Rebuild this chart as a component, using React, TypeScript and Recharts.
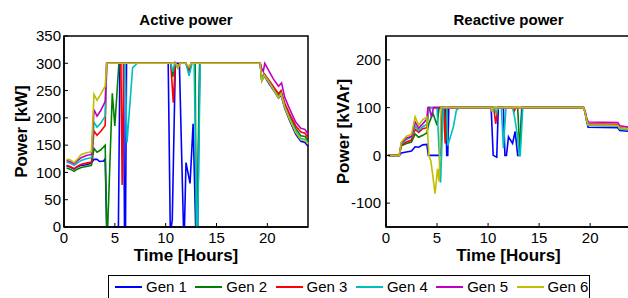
import React from 'react';
import { LineChart, Line, XAxis, YAxis, ReferenceArea } from 'recharts';

type Pt = [number, number];

const FONT = 'Liberation Sans, Arial, Helvetica, sans-serif';

const genNames = ['Gen 1', 'Gen 2', 'Gen 3', 'Gen 4', 'Gen 5', 'Gen 6'];
const genColors = ['#0000ff', '#008000', '#ff0000', '#00bfbf', '#bf00bf', '#bfbf00'];

const timeTicks = [0, 5, 10, 15, 20];
const activeTicks = [0, 50, 100, 150, 200, 250, 300, 350];
const reactiveTicks = [-100, 0, 100, 200];

// Active power [kW], [hour, value]
const activeGen1: Pt[] = [
  [0.25, 112], [0.6, 110], [1.0, 106], [1.3, 110], [1.7, 113], [2.2, 114], [2.7, 117],
  [2.95, 124], [3.25, 124], [3.5, 120], [3.9, 121], [4.05, 125], [4.2, 0], [5.35, 0],
  [5.5, 300], [5.85, 300], [5.95, 0], [6.05, 0], [6.15, 300], [10.25, 300], [10.45, 0],
  [10.55, 0], [10.65, 13], [10.95, 300], [11.35, 300], [11.75, 0], [11.85, 0], [12.0, 118],
  [12.4, 80], [12.7, 189], [12.95, 0], [13.15, 0], [13.35, 300], [19.3, 300], [19.45, 268],
  [19.7, 277], [20.2, 262], [20.7, 248], [21.1, 236], [21.35, 242], [21.7, 218], [22.2, 195],
  [22.8, 170], [23.3, 157], [23.7, 155], [24, 148],
];
const activeGen2: Pt[] = [
  [0.25, 108], [0.6, 106], [1.0, 102], [1.3, 106], [1.7, 109], [2.2, 111], [2.7, 113],
  [2.95, 144], [3.25, 137], [3.6, 141], [4.05, 150], [4.2, 0], [4.3, 0], [4.75, 245],
  [5.0, 185], [5.4, 300], [10.5, 300], [10.7, 275], [10.9, 300], [11.2, 292], [11.4, 300],
  [12.0, 300], [12.3, 285], [12.5, 300], [12.9, 300], [13.0, 0], [13.1, 0], [13.2, 140],
  [13.35, 300], [19.3, 300], [19.45, 270], [19.7, 279], [20.2, 266], [20.7, 252], [21.1, 240],
  [21.35, 247], [21.7, 224], [22.2, 203], [22.8, 180], [23.3, 167], [23.7, 166], [24, 158],
];
const activeGen3: Pt[] = [
  [0.25, 113], [0.6, 111], [1.0, 107], [1.3, 111], [1.7, 115], [2.2, 117], [2.7, 119],
  [2.95, 176], [3.25, 168], [3.6, 175], [4.05, 186], [4.2, 300], [5.6, 300], [5.72, 77],
  [5.88, 300], [10.5, 300], [10.75, 228], [10.95, 300], [11.2, 292], [11.4, 300], [12.0, 300],
  [12.3, 287], [12.5, 300], [19.3, 300], [19.45, 272], [19.7, 281], [20.2, 268], [20.7, 255],
  [21.1, 244], [21.35, 250], [21.7, 227], [22.2, 207], [22.8, 185], [23.3, 174], [23.7, 172],
  [24, 163],
];
const activeGen4: Pt[] = [
  [0.25, 119], [0.6, 117], [1.0, 113], [1.3, 117], [1.7, 122], [2.2, 125], [2.7, 127],
  [2.95, 192], [3.25, 183], [3.6, 190], [4.05, 203], [4.2, 300], [6.0, 300], [6.2, 155],
  [6.75, 292], [7.0, 296], [7.2, 300], [10.5, 300], [10.7, 285], [10.9, 300], [11.2, 292],
  [11.4, 300], [12.0, 300], [12.3, 277], [12.6, 300], [12.8, 300], [13.05, 0], [13.15, 0],
  [13.4, 300], [19.3, 300], [19.45, 270], [19.7, 279], [20.2, 265], [20.7, 250], [21.1, 238],
  [21.35, 245], [21.7, 221], [22.2, 199], [22.8, 176], [23.3, 162], [23.7, 161], [24, 153],
];
const activeGen5: Pt[] = [
  [0.25, 122], [0.6, 120], [1.0, 116], [1.3, 121], [1.7, 127], [2.2, 131], [2.7, 133],
  [2.95, 215], [3.25, 203], [3.6, 213], [4.05, 230], [4.2, 300], [11.0, 300], [11.2, 293],
  [11.4, 300], [12.0, 300], [12.3, 292], [12.5, 300], [19.3, 300], [19.45, 290], [19.6, 285],
  [19.75, 300], [20.1, 288], [20.6, 271], [21.1, 258], [21.4, 264], [21.7, 238], [22.2, 216],
  [22.8, 192], [23.3, 181], [23.7, 179], [24, 170],
];
const activeGen6: Pt[] = [
  [0.25, 124], [0.6, 123], [1.0, 118], [1.3, 124], [1.7, 133], [2.2, 136], [2.7, 138],
  [2.95, 243], [3.25, 232], [3.6, 243], [4.05, 258], [4.2, 300], [11.0, 300], [11.2, 291],
  [11.4, 300], [12.0, 300], [12.3, 293], [12.5, 300], [19.3, 300], [19.45, 268], [19.7, 278],
  [20.2, 264], [20.7, 249], [21.1, 237], [21.35, 244], [21.7, 220], [22.2, 197], [22.8, 173],
  [23.3, 160], [23.7, 159], [24, 152],
];

// Reactive power [kVAr], [hour, value]
const reactiveGen1: Pt[] = [
  [0.25, 0], [1.3, 0], [1.5, 5], [2.0, 7], [2.5, 9], [2.85, 18], [3.2, 17], [3.6, 22],
  [4.0, 23], [4.15, 0], [5.35, 0], [5.5, 100], [5.85, 100], [5.95, 0], [6.05, 0], [6.15, 100],
  [10.3, 100], [10.5, 0], [10.85, -4], [11.0, 100], [11.5, 100], [11.65, 0], [11.8, 0],
  [12.0, 39], [12.4, 25], [12.65, 50], [12.9, 0], [13.1, 0], [13.3, 100], [19.35, 100],
  [19.5, 90], [19.65, 72], [19.8, 59], [22.7, 58], [22.9, 52], [24, 50],
];
const reactiveGen2: Pt[] = [
  [0.25, 0], [1.3, 0], [1.5, 20], [2.0, 25], [2.5, 28], [2.85, 45], [3.2, 38], [3.6, 42],
  [4.0, 47], [4.2, 67], [4.6, 88], [5.0, 63], [5.2, 100], [5.7, 100], [5.85, 30], [6.0, 100],
  [12.9, 100], [13.1, 15], [13.35, 100], [19.35, 100], [19.5, 91], [19.65, 74], [19.8, 63],
  [22.7, 62], [22.9, 55], [24, 53],
];
const reactiveGen3: Pt[] = [
  [0.25, 0], [1.3, 0], [1.5, 22], [2.0, 28], [2.5, 32], [2.85, 55], [3.2, 48], [3.6, 56],
  [4.0, 58], [4.2, 100], [5.65, 100], [5.8, 25], [5.95, 100], [10.55, 100], [10.75, 66],
  [10.95, 100], [12.4, 100], [12.55, 92], [12.7, 100], [19.35, 100], [19.5, 92], [19.65, 76],
  [19.8, 66], [22.7, 65], [22.9, 58], [24, 55],
];
const reactiveGen4: Pt[] = [
  [0.25, 0], [1.3, 0], [1.5, 24], [2.0, 33], [2.5, 38], [2.85, 62], [3.2, 52], [3.6, 60],
  [4.0, 65], [4.2, 100], [5.0, 100], [5.35, -57], [5.6, 100], [5.95, 100], [6.05, 20],
  [6.6, 60], [6.9, 95], [7.2, 100], [10.6, 100], [10.8, 88], [11.0, 100], [11.3, 100],
  [11.5, 15], [11.75, 100], [12.4, 100], [12.6, 80], [12.85, 45], [13.05, 0], [13.15, 0],
  [13.4, 100], [19.35, 100], [19.5, 91], [19.65, 74], [19.8, 63], [22.7, 62], [22.9, 55],
  [24, 53],
];
const reactiveGen5: Pt[] = [
  [0.25, 0], [1.3, 0], [1.5, 26], [2.0, 36], [2.5, 40], [2.85, 70], [3.2, 57], [3.6, 66],
  [4.0, 76], [4.1, 100], [4.25, 100], [4.45, 80], [4.65, 100], [19.35, 100], [19.5, 93],
  [19.65, 79], [19.8, 70], [22.7, 69], [22.9, 62], [24, 58],
];
const reactiveGen6: Pt[] = [
  [0.25, 0], [1.3, 0], [1.5, 28], [2.0, 40], [2.5, 44], [2.85, 81], [3.2, 63], [3.6, 75],
  [4.0, 80], [4.2, 0], [4.4, -12], [4.6, -45], [4.8, -80], [5.05, -28], [5.2, -55], [5.4, 100],
  [10.3, 100], [10.4, 91], [10.5, 100], [19.35, 100], [19.5, 91], [19.65, 74], [19.8, 64],
  [22.7, 63], [22.9, 57], [24, 55],
];

const activeSeries = [activeGen1, activeGen2, activeGen3, activeGen4, activeGen5, activeGen6];
const reactiveSeries = [reactiveGen1, reactiveGen2, reactiveGen3, reactiveGen4, reactiveGen5, reactiveGen6];

const axisLine = { stroke: '#000', strokeWidth: 1.5 };
const tickStyle = { fill: '#000', fontSize: 15, fontFamily: FONT };

const toRows = (pts: Pt[]) => pts.map(([t, v]) => ({ t, v }));

const yTitle = (text: string, dx: number) => (props: any) => {
  const vb = props.viewBox;
  const cx = vb.x + dx;
  const cy = vb.y + vb.height / 2;
  return (
    <text
      x={cx}
      y={cy}
      transform={`rotate(-90 ${cx} ${cy})`}
      textAnchor="middle"
      dominantBaseline="central"
      fontSize={17}
      fontWeight="bold"
      fontFamily={FONT}
      fill="#000"
    >
      {text}
    </text>
  );
};

interface PanelProps {
  left: number;
  width: number;
  title: string;
  yLabel: string;
  yLabelDx: number;
  yDomain: [number, number];
  yTicks: number[];
  yTickMargin: number;
  series: Pt[][];
}

const Panel: React.FC<PanelProps> = ({ left, width, title, yLabel, yLabelDx, yDomain, yTicks, yTickMargin, series }) => (
  <div style={{ position: 'absolute', left, top: 0 }}>
    <div
      style={{
        position: 'absolute',
        left: 64,
        top: 12,
        width: width - 66,
        textAlign: 'center',
        fontSize: 15,
        lineHeight: '16px',
        fontWeight: 'bold',
        fontFamily: FONT,
        color: '#000',
        whiteSpace: 'nowrap',
      }}
    >
      {title}
    </div>
    <LineChart width={width} height={268} margin={{ top: 36, right: 2, bottom: 7, left: 4 }}>
      <XAxis
        dataKey="t"
        type="number"
        domain={[0, 24]}
        ticks={timeTicks}
        interval={0}
        height={34}
        tickSize={-4}
        tickMargin={9}
        axisLine={axisLine}
        tickLine={{ stroke: '#000' }}
        tick={tickStyle}
        label={{
          value: 'Time [Hours]',
          position: 'insideBottom',
          offset: 0,
          fill: '#000',
          fontSize: 17,
          fontWeight: 'bold',
          fontFamily: FONT,
        }}
      />
      <YAxis
        type="number"
        domain={yDomain}
        ticks={yTicks}
        interval={0}
        width={60}
        tickSize={-4}
        tickMargin={yTickMargin}
        axisLine={axisLine}
        tickLine={{ stroke: '#000' }}
        tick={tickStyle}
        label={{ content: yTitle(yLabel, yLabelDx) }}
      />
      {/* axes frame (box on) */}
      <ReferenceArea
        x1={0}
        x2={24}
        y1={yDomain[0]}
        y2={yDomain[1]}
        fill="none"
        fillOpacity={0}
        stroke="#000"
        strokeWidth={1.5}
      />
      {series.map((pts, i) => (
        <Line
          key={genNames[i]}
          data={toRows(pts)}
          dataKey="v"
          type="linear"
          stroke={genColors[i]}
          strokeWidth={1.6}
          dot={false}
          activeDot={false}
          isAnimationActive={false}
        />
      ))}
    </LineChart>
  </div>
);

export default function App() {
  return (
    <div
      style={{
        position: 'absolute',
        left: 0,
        top: 0,
        width: 628,
        height: 298,
        overflow: 'hidden',
        background: '#fff',
        fontFamily: FONT,
      }}
    >
      <Panel
        left={0}
        width={310}
        title="Active power"
        yLabel="Power [kW]"
        yLabelDx={17}
        yDomain={[0, 350]}
        yTicks={activeTicks}
        yTickMargin={7}
        series={activeSeries}
      />
      <Panel
        left={322}
        width={311}
        title="Reactive power"
        yLabel="Power [kVAr]"
        yLabelDx={17}
        yDomain={[-150, 250]}
        yTicks={reactiveTicks}
        yTickMargin={9}
        series={reactiveSeries}
      />
      <div
        style={{
          position: 'absolute',
          left: 108,
          top: 275,
          width: 480,
          height: 30,
          border: '1px solid #000',
          background: '#fff',
        }}
      >
        {genNames.map((name, i) => (
          <div
            key={name}
            style={{
              position: 'absolute',
              left: 6 + i * 80.3,
              top: 2,
              height: 17,
              display: 'flex',
              alignItems: 'center',
            }}
          >
            <div style={{ width: 27, height: 0, borderTop: `2px solid ${genColors[i]}` }} />
            <span style={{ marginLeft: 4, fontSize: 15, lineHeight: '17px', color: '#000', whiteSpace: 'nowrap' }}>
              {name}
            </span>
          </div>
        ))}
      </div>
    </div>
  );
}
